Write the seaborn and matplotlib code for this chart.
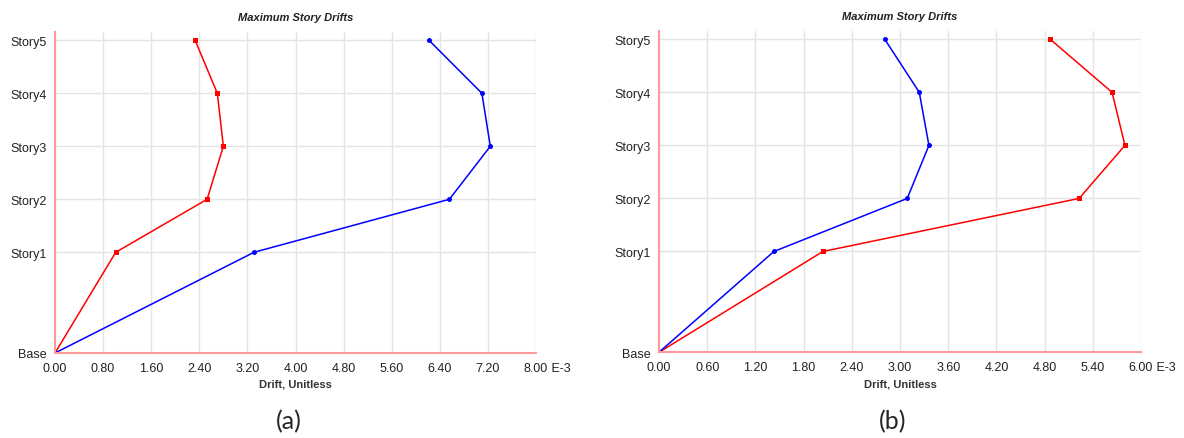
import numpy as np
import pandas as pd
import matplotlib
matplotlib.use('Agg')
import matplotlib.pyplot as plt
import seaborn as sns

# story levels (elevation used only to space the stories like the original)
stories = ['Base', 'Story1', 'Story2', 'Story3', 'Story4', 'Story5']
elevations = [0, 5.7, 8.7, 11.7, 14.7, 17.7]

# drifts, in units of E-3
a_red = [0, 1.01, 2.53, 2.80, 2.70, 2.33]
a_blue = [0, 3.31, 6.56, 7.24, 7.10, 6.22]
b_blue = [0, 1.43, 3.09, 3.36, 3.24, 2.81]
b_red = [0, 2.04, 5.23, 5.80, 5.64, 4.87]

a_ticks = [0, 0.8, 1.6, 2.4, 3.2, 4.0, 4.8, 5.6, 6.4, 7.2, 8.0]
b_ticks = [0, 0.6, 1.2, 1.8, 2.4, 3.0, 3.6, 4.2, 4.8, 5.4, 6.0]

sns.set_style('white')
plt.rcParams['font.family'] = ['Liberation Sans', 'DejaVu Sans']


def make_df(red, blue):
    return pd.DataFrame({
        'drift': red + blue,
        'elev': elevations + elevations,
        'case': ['red'] * len(red) + ['blue'] * len(blue),
    })


def draw(ax, df, ticks, caption_x, caption):
    sns.lineplot(data=df, x='drift', y='elev', hue='case', style='case',
                 palette={'red': '#ff0000', 'blue': '#0000ff'},
                 markers={'red': 's', 'blue': 'o'}, dashes=False,
                 sort=False, estimator=None, legend=False, ax=ax,
                 linewidth=1.1, markersize=3.6, markeredgewidth=0)
    ax.set_xlim(0, ticks[-1])
    ax.set_ylim(0, 18.15)
    ax.set_xticks(ticks)
    ax.set_xticklabels(['%.2f' % t for t in ticks])
    ax.set_yticks(elevations)
    ax.set_yticklabels(stories)
    ax.grid(True, color='#e4e4e4', linewidth=1)
    ax.set_axisbelow(True)
    for s in ['top', 'right']:
        ax.spines[s].set_visible(False)
    for s in ['left', 'bottom']:
        ax.spines[s].set_color('#ff9a9a')
        ax.spines[s].set_linewidth(1.5)
    ax.tick_params(axis='y', length=3, width=0.8, color='#555555', pad=3,
                   labelsize=9, labelcolor='#222222')
    ax.tick_params(axis='x', length=2, width=0.8, color='#555555', pad=4.5,
                   labelsize=9, labelcolor='#222222')
    ax.set_title('Maximum Story Drifts', fontsize=8, fontweight='bold',
                 style='italic', pad=9, color='#222222')
    ax.set_xlabel('Drift, Unitless', fontsize=8, fontweight='bold',
                  labelpad=3.5, color='#333333')
    ax.set_ylabel('')
    ax.annotate(' E-3', xy=(1, 0), xycoords='axes fraction',
                xytext=(8.5, -6.5), textcoords='offset points',
                ha='left', va='top', fontsize=9, color='#222222')
    fig.text(caption_x / 1184, 1 - 422 / 439, caption, ha='center',
             va='center', fontsize=18, family=['Lato', 'DejaVu Sans'])


fig = plt.figure(figsize=(11.84, 4.39), dpi=100)
ax1 = fig.add_axes([55 / 1184, 85 / 439, 481 / 1184, 320.7 / 439])
ax2 = fig.add_axes([659 / 1184, 85.7 / 439, 482 / 1184, 321 / 439])

draw(ax1, make_df(a_red, a_blue), a_ticks, 289, '(a)')
draw(ax2, make_df(b_red, b_blue), b_ticks, 893, '(b)')

plt.savefig('out.png', dpi=100)
